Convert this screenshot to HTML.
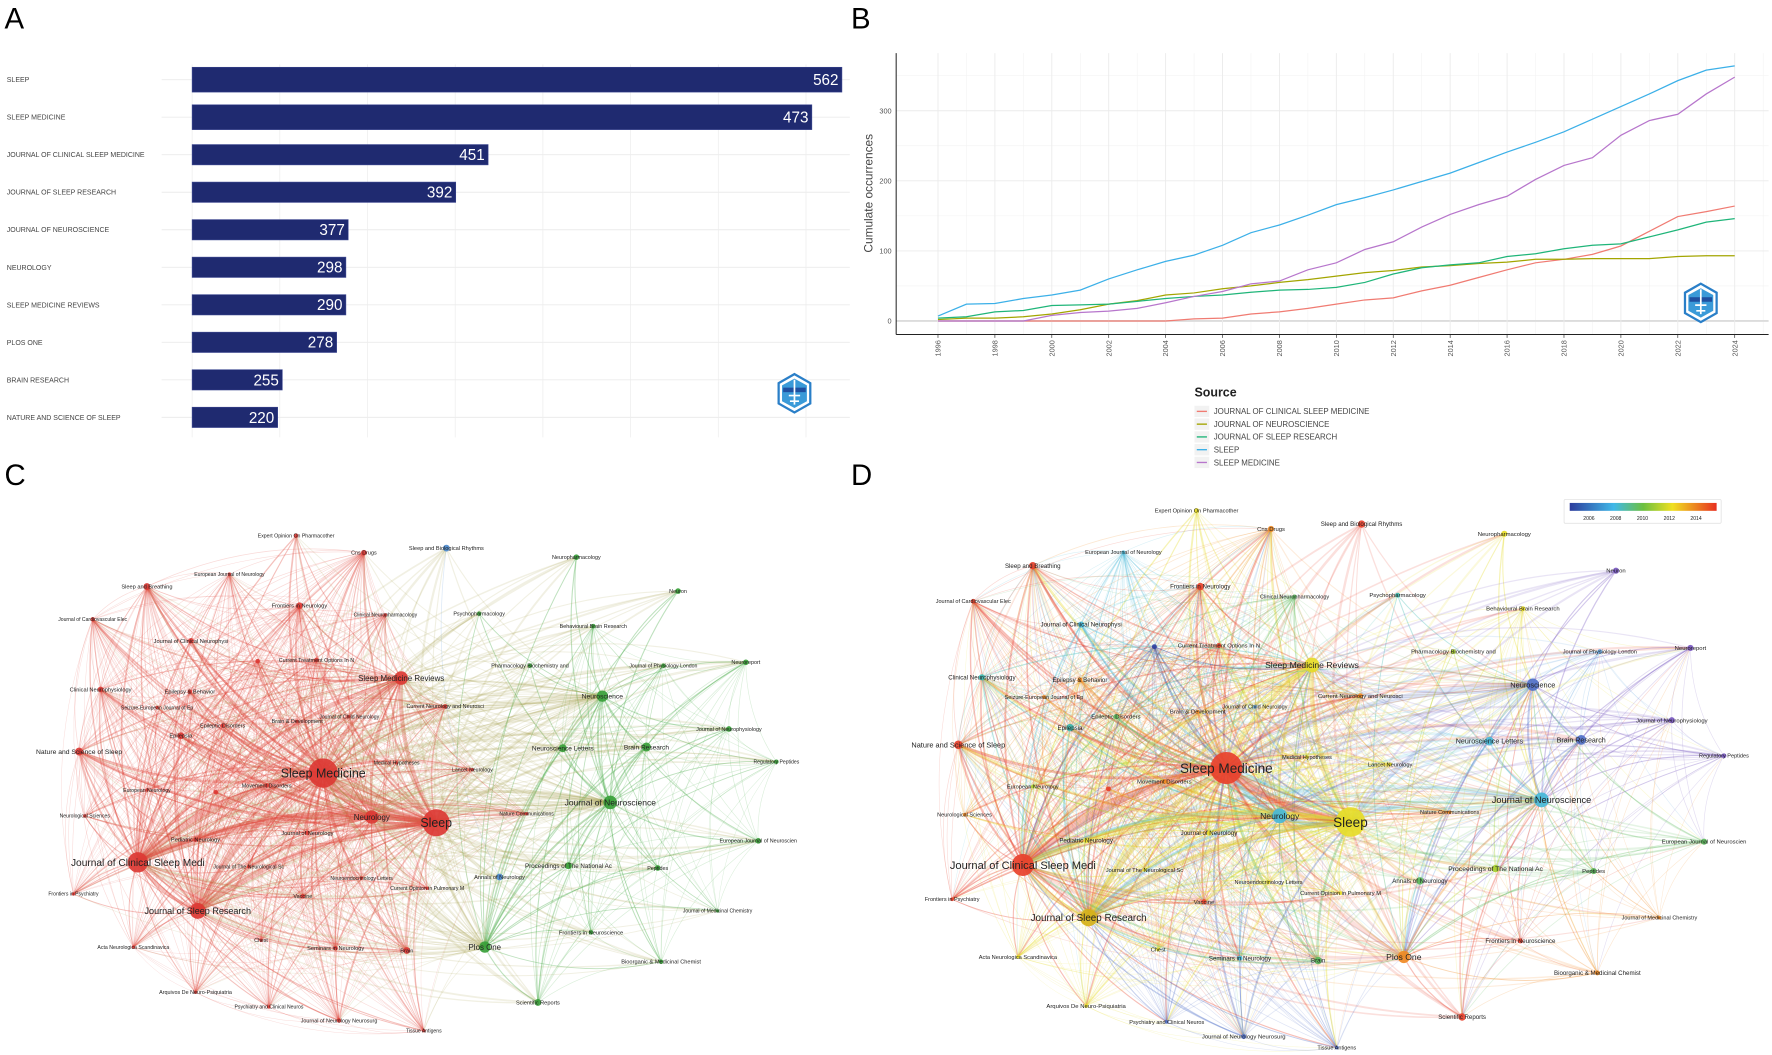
<!DOCTYPE html>
<html><head><meta charset="utf-8"><style>
html,body{margin:0;padding:0;background:#fff;}
svg{display:block;font-family:"Liberation Sans",sans-serif;}
.net text{font-family:"Liberation Sans Narrow","Liberation Sans",sans-serif;fill:#222;}
</style></head><body>
<svg id="fig" width="1772" height="1055" viewBox="0 0 1568 933.5" preserveAspectRatio="none" xmlns="http://www.w3.org/2000/svg">
<text x="4" y="25" font-size="26">A</text>
<text x="753" y="25" font-size="26">B</text>
<text x="4" y="429" font-size="26">C</text>
<text x="753" y="429" font-size="26">D</text>
<g id="pa"></g>
<g id="pb"></g>
<g id="pc" class="net"></g>
<g id="pd" class="net"></g>
</svg>
<script>
// ---------- Panel A data ----------
const categories = ["SLEEP","SLEEP MEDICINE","JOURNAL OF CLINICAL SLEEP MEDICINE","JOURNAL OF SLEEP RESEARCH","JOURNAL OF NEUROSCIENCE","NEUROLOGY","SLEEP MEDICINE REVIEWS","PLOS ONE","BRAIN RESEARCH","NATURE AND SCIENCE OF SLEEP"];
const values = [562,473,451,392,377,298,290,278,255,220];
const barExtent = [562,536,256,228,135,133,133,125,78,74];
// ---------- Panel B data ----------
const years = [1996,1997,1998,1999,2000,2001,2002,2003,2004,2005,2006,2007,2008,2009,2010,2011,2012,2013,2014,2015,2016,2017,2018,2019,2020,2021,2022,2023,2024];
const seriesNames = ["JOURNAL OF CLINICAL SLEEP MEDICINE","JOURNAL OF NEUROSCIENCE","JOURNAL OF SLEEP RESEARCH","SLEEP","SLEEP MEDICINE"];
const jcsm = [0,0,0,0,0,0,0,0,0,3,4,10,13,18,24,30,33,43,51,62,73,83,88,95,107,128,149,156,164];
const jneuro = [2,4,4,6,10,16,24,29,37,40,46,50,55,59,64,69,72,77,79,82,84,88,88,89,89,89,92,93,93];
const jsr = [4,6,13,15,22,23,24,28,32,35,37,41,44,45,48,55,67,76,80,83,92,96,103,108,110,120,130,141,146];
const sleep = [7,24,25,32,37,44,60,73,85,94,108,126,137,151,166,176,187,199,211,226,241,255,270,288,306,324,343,358,364];
const sleepMed = [0,0,0,0,8,12,14,18,26,35,42,53,57,73,83,102,113,134,152,166,178,202,222,233,265,286,295,324,348];
const yTicks = [0,100,200,300];
const xTickYears = [1996,1998,2000,2002,2004,2006,2008,2010,2012,2014,2016,2018,2020,2022,2024];

const NS="http://www.w3.org/2000/svg";
function mk(tag,attrs,parent,txt){const e=document.createElementNS(NS,tag);for(const k in attrs)e.setAttribute(k,attrs[k]);if(txt!==undefined)e.textContent=txt;parent.appendChild(e);return e;}

// ---------- Panel A ----------
(function(){
const g=document.getElementById('pa');
const x=v=>170+v*(575/562);
const yc=i=>70.5+i*33.2;
for(let k=0;k<8;k++){const l=mk('line',{x1:170+77.6*k,x2:170+77.6*k,y1:57,y2:387,stroke:'#ececec','stroke-width':0.6},g);

}
categories.forEach((c,i)=>{
  const l=mk('line',{x1:143,x2:752,y1:yc(i),y2:yc(i),stroke:'#ececec','stroke-width':0.8},g);
  
  
  const t=mk('text',{x:6,y:yc(i)+2.2,'font-size':6.2,fill:'#444','font-family':'Liberation Sans Narrow, Liberation Sans, sans-serif'},g,c);
  
  
  const h=i<2?22:18;
  const r=mk('rect',{x:170,y:yc(i)-h/2,width:x(barExtent[i])-170,height:h,fill:'#1f2a70',stroke:'#3a4590','stroke-width':0.5},g);
  
  
  const v=mk('text',{x:x(barExtent[i])-3,y:yc(i)+4.8,'font-size':13.5,fill:'#fff','text-anchor':'end'},g,String(values[i]));
  
  
});
logo(g,703,348);
})();

function logo(g,cx,cy){
  const lg=mk('g',{transform:`translate(${cx},${cy})`},g);
  
  
  mk('polygon',{points:'0,-17 14,-9 14,9 0,17 -14,9 -14,-9',fill:'#fff',stroke:'#2a7fc8','stroke-width':2},lg);
  mk('polygon',{points:'0,-13 11,-7 11,7 0,13 -11,7 -11,-7',fill:'#3a9ad8'},lg);
  mk('rect',{x:-10,y:-5,width:20,height:4,fill:'#1f4fa0'},lg);
  mk('path',{d:'M0,-12 L0,10 M-5,2 L5,2 M-4,7 L4,7',stroke:'#fff','stroke-width':1.5,fill:'none'},lg);
}

// ---------- Panel B ----------
(function(){
const g=document.getElementById('pb');
const L=793,R=1565,T=47,B=296;
const x=yr=>830+(yr-1996)*(705/28);
const y=v=>284-v*0.62;
for(let v=50;v<=350;v+=100)mk('line',{x1:L,x2:R,y1:y(v),y2:y(v),stroke:'#f2f2f2','stroke-width':0.5},g);
for(let yr=1997;yr<=2025;yr+=2)mk('line',{x1:x(yr),x2:x(yr),y1:T,y2:B,stroke:'#f2f2f2','stroke-width':0.5},g);
yTicks.forEach(v=>{mk('line',{x1:L,x2:R,y1:y(v),y2:y(v),stroke:v===0?'#dcdcdc':'#ebebeb','stroke-width':v===0?1.6:0.8},g);
  const t=mk('text',{x:789,y:y(v)+2.3,'font-size':6.5,fill:'#555','text-anchor':'end'},g,String(v));
  
  });
xTickYears.forEach(yr=>{mk('line',{x1:x(yr),x2:x(yr),y1:T,y2:B,stroke:'#ebebeb','stroke-width':0.8},g);
  mk('line',{x1:x(yr),x2:x(yr),y1:B,y2:B+3,stroke:'#333','stroke-width':0.6},g);
  const t=mk('text',{transform:`translate(${x(yr)+2.3},${B+5}) rotate(-90)`,'font-size':6.5,fill:'#555','text-anchor':'end'},g,String(yr));
  
  });
mk('line',{x1:L,x2:L,y1:T,y2:B,stroke:'#222','stroke-width':0.9},g);
mk('line',{x1:L,x2:R,y1:B,y2:B,stroke:'#222','stroke-width':0.9},g);
const yt=mk('text',{transform:'translate(772,171) rotate(-90)','font-size':10.5,fill:'#444','text-anchor':'middle'},g,'Cumulate occurrences');


const cols=['#f07b72','#a3a500','#1fb579','#3cb0e8','#b776cc'];
const data=[jcsm,jneuro,jsr,sleep,sleepMed];
data.forEach((s,i)=>{
  const p=mk('polyline',{points:s.map((v,j)=>x(years[j])+','+y(v)).join(' '),fill:'none',stroke:cols[i],'stroke-width':1.1},g);
  
  
});
logo(g,1505,268);
const lt=mk('text',{x:1057,y:351,'font-size':11,'font-weight':'bold',fill:'#222'},g,'Source');


seriesNames.forEach((n,i)=>{
  const yy=364+i*11.3;
  mk('rect',{x:1057,y:yy-5,width:13,height:10,fill:'#f2f2f2'},g);
  mk('line',{x1:1059,x2:1068,y1:yy,y2:yy,stroke:cols[i],'stroke-width':1.2},g);
  const t=mk('text',{x:1074,y:yy+2.5,'font-size':7,fill:'#444','font-family':'Liberation Sans Narrow, Liberation Sans, sans-serif'},g,n);
  
  
});
})();

// ---------- Networks ----------
const RED='#e0453c',GRN='#40a840',BLU='#5a98d8';
const cR='#e8412c',cO='#f08a24',cY='#e6dc28',cG='#d6b21a',cYG='#a8d030',cGr='#5cb85c',cT='#3cb8b0',cC='#48b8d8',cLB='#6aa8e0',cB='#5070c8',cP='#7858c0',cDB='#3040a0';
const nodes=[
["Expert Opinion On Pharmacother",262,474,2,0,cY,4.6],["Cns Drugs",322,489,2.5,0,cO,4.8],["Sleep and Biological Rhythms",395,485,3,2,cR,5],
["Neuropharmacology",510,493,2.5,1,cY,4.8],["European Journal of Neurology",203,508,1.5,0,cC,4.5],["Sleep and Breathing",130,519,3,0,cR,5],
["Neuron",600,523,2.5,1,cP,4.8],["Frontiers in Neurology",265,536,3,0,cR,5],["Clinical Neuropharmacology",341,544,1.5,0,cGr,4.5],
["Psychopharmacology",424,543,2,1,cT,4.8],["Journal of Cardiovascular Elec",82,548,2,0,cR,4.5],["Behavioural Brain Research",525,554,2,1,cY,4.8],
["Journal of Clinical Neurophysi",169,567,2.5,0,cC,5],["Current Treatment Options In N",280,584,2,0,cR,4.8],["",228,585,2,0,cDB,4],
["Pharmacology Biochemistry and",469,589,2,1,cYG,4.8],["Journal of Physiology London",587,589,2,1,cLB,4.6],["Neuroreport",660,586,2.5,1,cP,4.8],
["Sleep Medicine Reviews",355,600,6,0,cY,7],["Clinical Neurophysiology",89,610,2.5,0,cT,5],["Epilepsy & Behavior",168,612,2,0,cO,5],
["Seizure-European Journal of Ep",139,626,1.5,0,cO,4.5],["Neuroscience",533,616,5,1,cB,6],["Current Neurology and Neurosci",394,625,2,0,cO,4.8],
["Journal of Child Neurology",309,634,1.5,0,cLB,4.5],["Brain & Development",263,638,1.5,0,cO,4.8],["Epileptic Disorders",197,642,2,0,cGr,4.8],
["Epilepsia",160,651,3,0,cT,5],["Journal of Neurophysiology",645,645,2.5,1,cP,4.8],["Nature and Science of Sleep",70,665,3.5,0,cR,6],
["Neuroscience Letters",498,662,3.5,1,cC,5.8],["Brain Research",572,661,4,1,cB,5.8],["Regulatory Peptides",687,674,2,1,cP,4.5],
["Medical Hypotheses",351,675,1.5,0,cY,4.5],["Lancet Neurology",418,681,1.5,0,cY,4.6],["Sleep Medicine",286,684,13,0,cR,11],
["European Neurology",130,699,1.5,0,cYG,4.6],["",191,701,2,0,cR,4],["Movement Disorders",236,695,2,0,cO,4.8],
["Neurological Sciences",75,722,1.5,0,cO,4.5],["Journal of Neuroscience",540,710,6,1,cC,7.5],["Nature Communications",466,720,1.5,0,cO,4.5],
["Neurology",329,723,6,0,cC,7],["Sleep",386,728,12,0,cY,11],["Journal of Neurology",272,737,2,0,cY,5],
["Pediatric Neurology",173,743,2,0,cY,5],["European Journal of Neuroscien",671,744,2.5,1,cGr,4.8],["Journal of Clinical Sleep Medi",122,763,9,0,cR,9],
["Journal of The Neurological Sc",220,767,1.5,0,cY,4.6],["Proceedings of The National Ac",503,766,3,1,cYG,5.5],["Peptides",582,768,2.5,1,cGr,4.8],
["Annals of Neurology",442,776,3,2,cGr,5],["Neuroendocrinology Letters",320,777,1.5,0,cY,4.5],["Current Opinion in Pulmonary M",378,786,1.5,0,cY,4.6],
["Frontiers in Psychiatry",65,791,1.5,0,cR,4.5],["Vaccine",268,793,2,0,cR,4.8],["Journal of Sleep Research",175,806,7,0,cG,8],
["Journal of Medicinal Chemistry",635,806,1.5,1,cO,4.5],["Frontiers in Neuroscience",523,825,2,1,cR,5],["Acta Neurologica Scandinavica",118,838,1.5,0,cY,4.6],
["Chest",231,832,1.5,0,cY,4.6],["Seminars in Neurology",297,839,2,0,cC,5],["Brain",360,841,3,0,cGr,5],
["Plos One",429,838,5,1,cO,7],["Bioorganic & Medicinal Chemist",585,851,2,1,cO,5],["Arquivos De Neuro-Psiquiatria",173,878,1.5,0,cY,4.8],
["Scientific Reports",476,887,3,1,cR,5],["Psychiatry and Clinical Neuros",238,891,1.5,0,cB,4.5],["Journal of Neurology Neurosurg",300,903,2,0,cB,4.8],
["Tissue Antigens",375,912,1.5,0,cB,4.5]];
const clusterCol=[RED,GRN,BLU];

function drawNet(gid,tx,ty,sc,overlay){
  const g=document.getElementById(gid);
  const P=nodes.map(n=>[tx(n[1]),ty(n[2])]);
  const eg=mk('g',{fill:'none'},g);
  
  
  for(let i=0;i<nodes.length;i++)for(let j=i+1;j<nodes.length;j++){
    const a=nodes[i],b=nodes[j];
    const same=a[4]===b[4];
    const hub=a[3]>=5||b[3]>=5;
    if(!hub&&!(same&&((i*7+j*3)%3!==0)))continue;
    const small=a[3]<=b[3]?a:b, big=a[3]>b[3]?a:b;
    const useBig=big[3]>=9&&((i+j)%2===0);
    const col=overlay?(useBig?big[5]:small[5]):(same?clusterCol[a[4]]:'#a8a050');
    const w=Math.min(8,0.3+a[3]*b[3]/22)*sc;
    const op=same?(hub?0.34:0.2):(hub?0.16:0.08);
    const [x1,y1]=P[i],[x2,y2]=P[j];
    const dx=x2-x1,dy=y2-y1;
    const cx=(x1+x2)/2-dy*0.15,cy=(y1+y2)/2+dx*0.15;
    mk('path',{d:`M${x1},${y1}Q${cx},${cy} ${x2},${y2}`,stroke:col,'stroke-width':w,'stroke-opacity':op},eg);
  }
  nodes.forEach((n,i)=>{
    const col=overlay?n[5]:(n[4]===0?'#dc3a34':n[4]===1?'#38a038':'#4a88cc');
    const c=mk('circle',{cx:P[i][0],cy:P[i][1],r:n[3]*sc,fill:col,'fill-opacity':0.92},g);
    
    
  });
  nodes.forEach((n,i)=>{
    if(!n[0])return;
    const t=mk('text',{x:P[i][0],y:P[i][1]+n[6]*0.35*sc,'font-size':n[6]*sc,'text-anchor':'middle'},g,n[0]);
    
    
  });
}
drawNet('pc',x=>x,y=>y,1,false);
drawNet('pd',x=>848+(x-70)*1.098,y=>659+(y-665)*1.085,1.09,true);

(function(){
const g=document.getElementById('pd');
const cb=mk('g',{},g);


const defs=mk('defs',{},cb);
const lg=mk('linearGradient',{id:'yrgrad',x1:0,x2:1,y1:0,y2:0},defs);
[['0','#2c3c9c'],['0.3','#40b8e8'],['0.5','#6cc040'],['0.7','#f0e020'],['1','#e83020']].forEach(s=>mk('stop',{offset:s[0],'stop-color':s[1]},lg));
mk('rect',{x:1384,y:442,width:139,height:21,fill:'#fff',stroke:'#ddd','stroke-width':0.6,rx:1},cb);
mk('rect',{x:1389,y:445,width:130,height:7,fill:'url(#yrgrad)'},cb);
const cbYears=[2006,2008,2010,2012,2014];
cbYears.forEach((yr,k)=>mk('text',{x:1406+k*23.7,y:460,'font-size':4.5,fill:'#444','text-anchor':'middle'},cb,String(yr)));
})();
</script>
</body></html>
